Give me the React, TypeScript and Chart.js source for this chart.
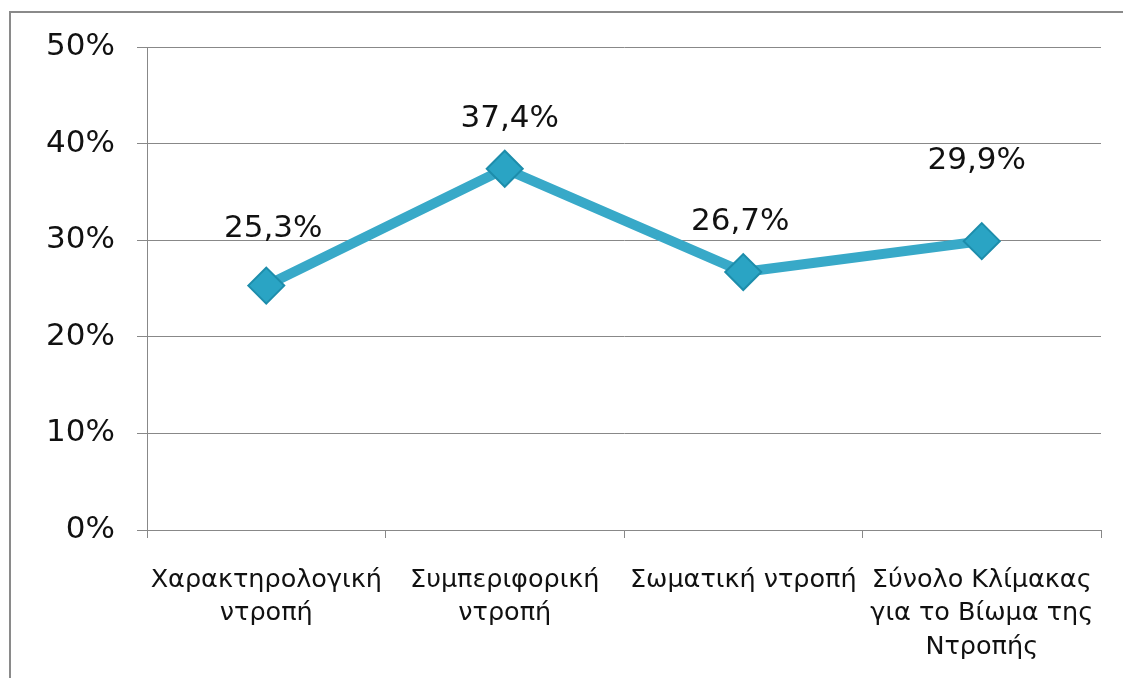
import React, { useEffect, useRef } from "react";
import { Chart, registerables } from "chart.js";

Chart.register(...registerables);

const categories: string[][] = [
  ["Χαρακτηρολογική", "ντροπή"],
  ["Συμπεριφορική", "ντροπή"],
  ["Σωματική ντροπή"],
  ["Σύνολο Κλίμακας", "για το Βίωμα της", "Ντροπής"],
];
const values: number[] = [25.3, 37.4, 26.7, 29.9];
const yTicks: number[] = [0, 10, 20, 30, 40, 50];

const labelOffsets = [
  { dx: 7, dy: 57 },
  { dx: 5, dy: 50 },
  { dx: -3, dy: 50 },
  { dx: -5, dy: 80 },
];

const valueLabels = {
  id: "valueLabels",
  afterDatasetsDraw(chart: any) {
    const ctx = chart.ctx;
    const meta = chart.getDatasetMeta(0);
    ctx.save();
    ctx.font = "31px 'DejaVu Sans'";
    ctx.fillStyle = "#111";
    ctx.textAlign = "center";
    ctx.textBaseline = "middle";
    meta.data.forEach((pt: any, i: number) => {
      const v = values[i];
      const txt = v.toFixed(1).replace(".", ",") + "%";
      const o = labelOffsets[i];
      ctx.fillText(txt, pt.x + o.dx, pt.y - o.dy);
    });
    ctx.restore();
  },
};

export default function App() {
  const ref = useRef<HTMLCanvasElement>(null);
  useEffect(() => {
    if (!ref.current) return;
    const chart = new Chart(ref.current, {
      type: "line",
      data: {
        labels: categories,
        datasets: [
          {
            data: values,
            borderColor: "#38a9c8",
            borderWidth: 10,
            backgroundColor: "#2aa4c4",
            pointStyle: "rectRot",
            pointRadius: 18,
            pointHoverRadius: 18,
            pointBackgroundColor: "#2aa4c4",
            pointBorderColor: "#1d8dab",
            pointBorderWidth: 2,
            tension: 0,
          },
        ],
      },
      options: {
        animation: false,
        responsive: false,
        maintainAspectRatio: false,
        layout: { padding: { left: 0, right: 22, top: 47, bottom: 0 } },
        plugins: {
          legend: { display: false },
          tooltip: { enabled: false },
        },
        scales: {
          x: {
            offset: true,
            grid: {
              offset: true,
              drawOnChartArea: false,
              drawTicks: true,
              tickLength: 8,
              color: "#888",
            },
            border: { color: "#888", width: 1 },
            ticks: {
              autoSkip: false,
              maxRotation: 0,
              minRotation: 0,
              padding: 26,
              color: "#111",
              font: { family: "'DejaVu Sans'", size: 25.5, lineHeight: 1.3 },
            },
            afterFit: (s: any) => {
              s.height = 148;
            },
          },
          y: {
            min: 0,
            max: 50,
            afterBuildTicks: (s: any) => {
              s.ticks = yTicks.map((v) => ({ value: v }));
            },
            grid: {
              color: "#888",
              tickLength: 10,
              drawTicks: true,
            },
            border: { color: "#888", width: 1 },
            ticks: {
              padding: 22,
              color: "#111",
              font: { family: "'DejaVu Sans'", size: 31 },
              callback: (v: any) => v + "%",
            },
            afterFit: (s: any) => {
              s.width = 147;
            },
          },
        },
      },
      plugins: [valueLabels],
    });
    return () => chart.destroy();
  }, []);
  return (
    <div
      style={{
        position: "fixed",
        left: 0,
        top: 0,
        width: 1123,
        height: 678,
        background: "#fff",
        overflow: "hidden",
      }}
    >
      <div
        style={{
          position: "absolute",
          left: 9,
          top: 11,
          width: 1200,
          height: 800,
          borderLeft: "2px solid #8a8a8a",
          borderTop: "2px solid #8a8a8a",
        }}
      />
      <canvas
        ref={ref}
        width={1123}
        height={678}
        style={{ position: "absolute", left: 0, top: 0 }}
      />
    </div>
  );
}
